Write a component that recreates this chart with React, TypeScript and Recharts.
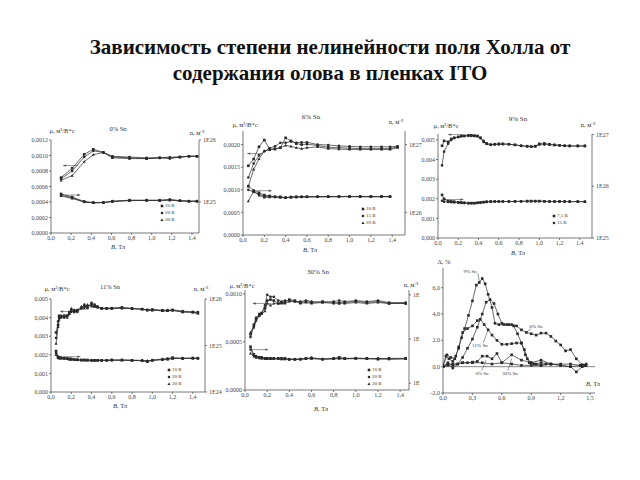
import React from 'react';
import { LineChart, Line, XAxis, YAxis, ReferenceLine } from 'recharts';

// ---- data ----
// 0% Sn
const b0 = [0.1, 0.21, 0.33, 0.42, 0.52, 0.61, 0.78, 0.95, 1.08, 1.18, 1.28, 1.37, 1.45];
const mu0_10 = [0.000715, 0.000835, 0.001015, 0.00108, 0.00104, 0.00098, 0.00097, 0.00096, 0.00097, 0.00097, 0.00098, 0.00099, 0.00099];
const mu0_20 = [0.0007, 0.0008, 0.00098, 0.00106, 0.00104, 0.00099, 0.00098, 0.00097, 0.00097, 0.00096, 0.00098, 0.00099, 0.00099];
const mu0_30 = [0.00068, 0.00074, 0.00092, 0.00101, 0.00104, 0.00097, 0.00096, 0.00096, 0.00097, 0.00098, 0.00098, 0.00099, 0.00099];
const n0_10 = [1.35e25, 1.2e25, 1.02e25, 0.98e25, 0.98e25, 1.03e25, 1.07e25, 1.07e25, 1.07e25, 1.08e25, 1.05e25, 1.03e25, 1.03e25];
const n0_20 = [1.3e25, 1.17e25, 1.0e25, 0.97e25, 0.98e25, 1.02e25, 1.06e25, 1.06e25, 1.06e25, 1.1e25, 1.05e25, 1.03e25, 1.03e25];
const n0_30 = [1.25e25, 1.14e25, 1.0e25, 0.97e25, 0.98e25, 1.02e25, 1.05e25, 1.06e25, 1.05e25, 1.07e25, 1.04e25, 1.03e25, 1.03e25];

// 6% Sn
const b6u = [0.05, 0.1, 0.15, 0.2, 0.25, 0.3, 0.35, 0.4, 0.45, 0.5, 0.55, 0.6, 0.7, 0.8, 0.9, 1.0, 1.1, 1.2, 1.3, 1.38, 1.45];
const b6n = [0.05, 0.1, 0.15, 0.2, 0.25, 0.3, 0.35, 0.4, 0.45, 0.5, 0.55, 0.6, 0.7, 0.8, 0.9, 1.0, 1.1, 1.2, 1.3, 1.38];
const mu6_10 = [0.00153, 0.00168, 0.00195, 0.0021, 0.0019, 0.0019, 0.00193, 0.00215, 0.00208, 0.00202, 0.002, 0.00201, 0.00198, 0.00194, 0.00193, 0.00192, 0.00191, 0.00191, 0.00191, 0.00191, 0.00195];
const mu6_15 = [0.00127, 0.00158, 0.00176, 0.00185, 0.00192, 0.00196, 0.00204, 0.00204, 0.00207, 0.00204, 0.00205, 0.00205, 0.002, 0.00199, 0.00197, 0.00196, 0.00195, 0.00195, 0.00195, 0.00195, 0.00196];
const mu6_20 = [0.00108, 0.00145, 0.00168, 0.00186, 0.00188, 0.00191, 0.00193, 0.00198, 0.00196, 0.00193, 0.00191, 0.00193, 0.00195, 0.00191, 0.0019, 0.00189, 0.00189, 0.00189, 0.00189, 0.00189, 0.00193];
const n6_10 = [2.44e26, 2.1e26, 1.95e26, 1.8e26, 1.75e26, 1.7e26, 1.7e26, 1.65e26, 1.68e26, 1.7e26, 1.7e26, 1.7e26, 1.71e26, 1.71e26, 1.72e26, 1.72e26, 1.72e26, 1.72e26, 1.72e26, 1.72e26];
const n6_15 = [2.15e26, 2.0e26, 1.85e26, 1.72e26, 1.72e26, 1.7e26, 1.66e26, 1.65e26, 1.68e26, 1.69e26, 1.69e26, 1.7e26, 1.7e26, 1.71e26, 1.71e26, 1.71e26, 1.71e26, 1.71e26, 1.71e26, 1.71e26];
const n6_20 = [1.47e26, 2.05e26, 1.78e26, 1.66e26, 1.68e26, 1.68e26, 1.66e26, 1.64e26, 1.67e26, 1.68e26, 1.69e26, 1.69e26, 1.7e26, 1.7e26, 1.7e26, 1.71e26, 1.7e26, 1.7e26, 1.7e26, 1.7e26];

// 9% Sn
const b9 = [0.04, 0.06, 0.1, 0.13, 0.16, 0.2, 0.23, 0.26, 0.3, 0.33, 0.36, 0.39, 0.42, 0.45, 0.48, 0.52, 0.56, 0.6, 0.64, 0.7, 0.76, 0.82, 0.88, 0.92, 0.96, 1.0, 1.05, 1.1, 1.15, 1.2, 1.25, 1.3, 1.38, 1.45];
const mu9_75 = [0.0047, 0.00495, 0.0049, 0.00505, 0.0051, 0.00515, 0.0052, 0.0052, 0.00525, 0.00525, 0.0052, 0.0052, 0.0051, 0.0049, 0.0048, 0.00475, 0.00478, 0.0048, 0.0048, 0.00478, 0.00475, 0.0047, 0.00468, 0.00466, 0.00468, 0.0048, 0.00482, 0.00478, 0.00475, 0.00472, 0.0047, 0.0047, 0.0047, 0.0047];
const mu9_15 = [0.0037, 0.0044, 0.0048, 0.005, 0.0051, 0.00515, 0.00518, 0.0052, 0.0052, 0.0052, 0.00522, 0.00518, 0.0051, 0.00495, 0.00482, 0.00476, 0.00476, 0.00477, 0.00478, 0.00478, 0.00474, 0.0047, 0.00466, 0.00465, 0.00466, 0.00476, 0.00476, 0.00475, 0.00473, 0.00472, 0.0047, 0.00468, 0.00468, 0.00468];
const n9_75 = [6.8e25, 5.7e25, 5.16e25, 5.1e25, 5.03e25, 4.89e25, 4.85e25, 4.8e25, 4.72e25, 4.72e25, 4.72e25, 4.8e25, 4.85e25, 4.94e25, 5.0e25, 5.07e25, 5.07e25, 5.07e25, 5.07e25, 5.07e25, 5.1e25, 5.1e25, 5.16e25, 5.16e25, 5.16e25, 5.16e25, 5.1e25, 5.07e25, 5.07e25, 5.07e25, 5.07e25, 5.05e25, 5.05e25, 5.03e25];
const n9_15 = [5.25e25, 5.03e25, 4.95e25, 4.9e25, 4.85e25, 4.8e25, 4.75e25, 4.72e25, 4.68e25, 4.68e25, 4.7e25, 4.75e25, 4.82e25, 4.9e25, 4.98e25, 5.03e25, 5.05e25, 5.05e25, 5.05e25, 5.07e25, 5.07e25, 5.1e25, 5.12e25, 5.14e25, 5.14e25, 5.12e25, 5.1e25, 5.07e25, 5.05e25, 5.05e25, 5.05e25, 5.03e25, 5.03e25, 5.0e25];

// 11% Sn
const b11 = [0.05, 0.07, 0.08, 0.1, 0.13, 0.16, 0.18, 0.2, 0.23, 0.26, 0.3, 0.33, 0.36, 0.4, 0.43, 0.46, 0.5, 0.55, 0.6, 0.7, 0.8, 0.9, 0.95, 1.0, 1.1, 1.15, 1.2, 1.3, 1.4, 1.45];
const mu11_10 = [0.0032, 0.0036, 0.0041, 0.00405, 0.0041, 0.0041, 0.0042, 0.0044, 0.0043, 0.0044, 0.0045, 0.0046, 0.0046, 0.0047, 0.0046, 0.00455, 0.0045, 0.0045, 0.0045, 0.00455, 0.0045, 0.00445, 0.0044, 0.0044, 0.00437, 0.00437, 0.0044, 0.0043, 0.0043, 0.00425];
const mu11_20 = [0.0029, 0.0038, 0.004, 0.0041, 0.004, 0.0041, 0.0043, 0.0043, 0.0044, 0.0043, 0.0045, 0.0047, 0.0045, 0.0048, 0.0047, 0.0046, 0.0045, 0.0045, 0.00452, 0.00452, 0.00448, 0.00446, 0.00442, 0.00445, 0.0044, 0.0044, 0.00442, 0.00435, 0.0043, 0.0043];
const mu11_30 = [0.0026, 0.0035, 0.0039, 0.004, 0.0041, 0.004, 0.0042, 0.0045, 0.0044, 0.0044, 0.0046, 0.0045, 0.0047, 0.0046, 0.0046, 0.0046, 0.00448, 0.00448, 0.00448, 0.0045, 0.00448, 0.00445, 0.0044, 0.0044, 0.00436, 0.00436, 0.00438, 0.0043, 0.00428, 0.00422];
const n11_10 = [7.6e24, 5.75e24, 5.5e24, 5.5e24, 5.35e24, 5.25e24, 5.15e24, 5.15e24, 5.0e24, 4.97e24, 4.88e24, 4.88e24, 4.88e24, 4.79e24, 4.79e24, 4.79e24, 4.79e24, 4.79e24, 4.88e24, 4.88e24, 4.79e24, 4.7e24, 4.49e24, 4.79e24, 5.0e24, 5.15e24, 5.5e24, 5.25e24, 5.4e24, 5.35e24];
const n11_20 = [6.9e24, 5.6e24, 5.4e24, 5.3e24, 5.3e24, 5.2e24, 5.1e24, 5.0e24, 4.95e24, 4.9e24, 4.85e24, 4.85e24, 4.8e24, 4.8e24, 4.8e24, 4.8e24, 4.8e24, 4.82e24, 4.85e24, 4.85e24, 4.82e24, 4.75e24, 4.6e24, 4.85e24, 5.1e24, 5.2e24, 5.3e24, 5.35e24, 5.3e24, 5.3e24];
const n11_30 = [6.3e24, 5.4e24, 5.3e24, 5.25e24, 5.2e24, 5.15e24, 5.05e24, 5.0e24, 4.9e24, 4.88e24, 4.85e24, 4.82e24, 4.8e24, 4.78e24, 4.78e24, 4.78e24, 4.8e24, 4.8e24, 4.82e24, 4.82e24, 4.8e24, 4.78e24, 4.7e24, 4.8e24, 4.95e24, 5.0e24, 5.2e24, 5.3e24, 5.25e24, 5.25e24];

// 30% Sn
const b30 = [0.05, 0.08, 0.1, 0.13, 0.15, 0.18, 0.2, 0.23, 0.26, 0.3, 0.33, 0.36, 0.4, 0.45, 0.5, 0.55, 0.6, 0.7, 0.8, 0.85, 0.9, 1.0, 1.1, 1.2, 1.3, 1.45];
const mu30_10 = [0.00058, 0.00068, 0.00075, 0.00079, 0.0008, 0.00085, 0.00093, 0.00094, 0.00093, 0.0009, 0.00091, 0.00091, 0.00094, 0.00093, 0.00091, 0.00092, 0.00091, 0.00092, 0.00091, 0.0009, 0.00091, 0.00092, 0.00091, 0.00092, 0.0009, 0.0009];
const mu30_20 = [0.00055, 0.00066, 0.00073, 0.00078, 0.0008, 0.00088, 0.00099, 0.00097, 0.00097, 0.00093, 0.00092, 0.00093, 0.00093, 0.00092, 0.00092, 0.00093, 0.00092, 0.00091, 0.00092, 0.00093, 0.00092, 0.00093, 0.00092, 0.00093, 0.00091, 0.00091];
const mu30_30 = [0.0006, 0.00065, 0.00072, 0.00077, 0.00079, 0.00082, 0.0009, 0.00088, 0.0009, 0.0009, 0.0009, 0.0009, 0.00092, 0.00092, 0.0009, 0.00091, 0.0009, 0.00091, 0.0009, 0.00091, 0.0009, 0.00091, 0.0009, 0.00091, 0.0009, 0.0009];
const n30_10 = [6.7e25, 4.49e25, 4.06e25, 3.86e25, 3.86e25, 3.67e25, 3.67e25, 3.67e25, 3.67e25, 3.67e25, 3.67e25, 3.67e25, 3.49e25, 3.49e25, 3.49e25, 3.67e25, 3.67e25, 3.49e25, 3.67e25, 3.86e25, 3.67e25, 3.67e25, 3.67e25, 3.49e25, 3.67e25, 3.67e25];
const n30_20 = [5.77e25, 4.3e25, 3.95e25, 3.8e25, 3.7e25, 3.6e25, 3.6e25, 3.6e25, 3.6e25, 3.6e25, 3.55e25, 3.55e25, 3.5e25, 3.5e25, 3.55e25, 3.6e25, 3.8e25, 3.55e25, 3.6e25, 3.7e25, 3.6e25, 3.7e25, 3.6e25, 3.65e25, 3.55e25, 3.6e25];
const n30_30 = [4.72e25, 4.06e25, 3.8e25, 3.7e25, 3.65e25, 3.6e25, 3.55e25, 3.55e25, 3.55e25, 3.55e25, 3.5e25, 3.5e25, 3.45e25, 3.45e25, 3.5e25, 3.55e25, 3.6e25, 3.5e25, 3.55e25, 3.6e25, 3.55e25, 3.6e25, 3.55e25, 3.6e25, 3.5e25, 3.55e25];

// nonlinearity, %
const d9x = [0, 0.03, 0.06, 0.1, 0.13, 0.16, 0.19, 0.22, 0.26, 0.3, 0.34, 0.37, 0.4, 0.43, 0.46, 0.5, 0.53, 0.57, 0.62, 0.67, 0.72, 0.76, 0.8, 0.84, 0.88, 0.93, 1.0, 1.1, 1.2, 1.3, 1.36, 1.42, 1.46];
const d9y = [0.1, 0.8, 0.6, 0.4, 0.8, 1.4, 2.2, 2.9, 3.9, 5.0, 6.2, 6.4, 6.7, 6.3, 5.5, 4.5, 3.3, 3.2, 3.2, 3.2, 3.1, 2.5, 1.8, 0.9, 0.3, 0.2, 0.3, 0.2, 0.1, 0.0, -0.4, 0.0, 0.1];
const d6x = [0, 0.05, 0.1, 0.15, 0.2, 0.25, 0.3, 0.35, 0.4, 0.44, 0.48, 0.52, 0.56, 0.6, 0.65, 0.7, 0.75, 0.8, 0.85, 0.9, 0.95, 1.0, 1.05, 1.1, 1.15, 1.2, 1.25, 1.3, 1.36, 1.42, 1.46];
const d6y = [0.0, 0.2, -0.1, 0.2, 0.7, 1.4, 2.1, 3.0, 4.0, 4.9, 5.1, 4.8, 4.0, 3.3, 3.2, 3.2, 3.1, 2.8, 2.6, 2.5, 2.4, 2.55, 2.55, 2.3, 1.95, 1.65, 1.2, 1.3, 0.6, 0.15, 0.2];
const d11x = [0, 0.04, 0.08, 0.12, 0.16, 0.2, 0.25, 0.3, 0.35, 0.38, 0.42, 0.46, 0.5, 0.55, 0.6, 0.65, 0.7, 0.75, 0.8, 0.83, 0.86, 0.9, 0.95, 1.0, 1.05];
const d11y = [0.0, 0.9, 0.7, 0.6, 1.5, 2.6, 2.9, 3.1, 3.5, 3.6, 3.2, 2.8, 2.4, 2.0, 1.7, 1.7, 1.75, 1.8, 1.8, 1.3, 0.6, 0.3, 0.2, 0.1, 0.2];
const d0x = [0, 0.05, 0.1, 0.15, 0.2, 0.25, 0.3, 0.35, 0.4, 0.45, 0.5, 0.55, 0.6, 0.7, 0.8, 0.9, 1.0, 1.1, 1.2, 1.3, 1.4, 1.45];
const d0y = [0, 0.3, 0.1, 0.2, 0.3, 0.3, 0.35, 0.4, 0.8, 0.8, 0.6, 1.0, 0.3, 0.2, 0.1, 0.1, 0.1, 0.2, 0.2, 0.2, 0.1, 0.1];
const d30x = [0, 0.05, 0.1, 0.2, 0.3, 0.4, 0.5, 0.6, 0.7, 0.8, 0.9, 1.0, 1.1, 1.2, 1.3, 1.4, 1.45];
const d30y = [0, 0.1, 0.2, 0.3, 0.3, 0.3, 0.2, 0.3, 0.9, 0.5, 0.3, 0.5, 0.2, 0.1, 0.0, 0.1, 0.1];

const legend3 = ['10 В', '20 В', '30 В'];
const legend6 = ['10 В', '15 В', '20 В'];
const legend9 = ['7,5 В', '15 В'];

const FONT = '"Liberation Serif", "Times New Roman", serif';
const INK = '#2a2a2a';

type Shape = 'square' | 'circle' | 'triangle';
// annotation segment in data units: [x1, y1, x2, y2]; arrow head drawn at (x2, y2) if head
type Seg = { p: [number, number, number, number]; head?: boolean };

const zip = (xs: number[], ys: number[]) => xs.map((x, i) => ({ x, y: ys[i] }));
const comma = (d: number) => (v: number) => v.toFixed(d).replace('.', ',');
const expLabel = (v: number) => `1E${Math.round(Math.log10(v))}`;

function Marker({ cx, cy, shape, s = 2.6 }: { cx?: number; cy?: number; shape: Shape; s?: number }) {
  if (cx == null || cy == null) return null;
  if (shape === 'circle') return <circle cx={cx} cy={cy} r={s / 2} fill={INK} />;
  if (shape === 'triangle')
    return <polygon points={`${cx},${cy - s / 1.6} ${cx - s / 1.7},${cy + s / 2.4} ${cx + s / 1.7},${cy + s / 2.4}`} fill={INK} />;
  return <rect x={cx - s / 2} y={cy - s / 2} width={s} height={s} fill={INK} />;
}

const arrowShape = (head: boolean) => (props: any) => {
  const { x1, y1, x2, y2 } = props;
  if ([x1, y1, x2, y2].some((v) => v == null || isNaN(v))) return <g />;
  const a = Math.atan2(y2 - y1, x2 - x1);
  const L = 3;
  const W = 1.2;
  const hx = x2 - L * Math.cos(a);
  const hy = y2 - L * Math.sin(a);
  return (
    <g>
      <line x1={x1} y1={y1} x2={x2} y2={y2} stroke="#555" strokeWidth={0.6} />
      {head && (
        <polygon
          points={`${x2},${y2} ${hx - W * Math.sin(a)},${hy + W * Math.cos(a)} ${hx + W * Math.sin(a)},${hy - W * Math.cos(a)}`}
          fill="#555"
        />
      )}
    </g>
  );
};

interface Series {
  data: { x: number; y: number }[];
  axis: 'mu' | 'n';
  shape: Shape;
}

interface PanelProps {
  rect: [number, number, number, number]; // plot area x0,y0,x1,y1 on the page
  xMax: number;
  xTicks: number[];
  xDigits: number;
  muDomain: [number, number];
  muTicks: number[];
  muDigits: number;
  nDomain?: [number, number];
  nTicks?: number[];
  nFormat?: (v: number) => string;
  series: Series[];
  zeroLine?: boolean;
  segs?: Seg[];
}

const WL = 26;
const WR = 20;
const TOP = 4;
const HX = 12;

const tickStyle = { fontSize: 6, fill: '#444', fontFamily: FONT };
const axisLine = { stroke: '#555', strokeWidth: 0.8 };

function Panel(p: PanelProps) {
  const [x0, y0, x1, y1] = p.rect;
  const wr = p.nDomain ? WR : 4;
  const width = x1 - x0 + WL + wr;
  const height = y1 - y0 + TOP + HX;
  return (
    <div style={{ position: 'absolute', left: x0 - WL, top: y0 - TOP }}>
      <LineChart width={width} height={height} margin={{ top: TOP, right: p.nDomain ? 0 : wr, bottom: 0, left: 0 }}>
        <XAxis
          dataKey="x"
          type="number"
          domain={[0, p.xMax]}
          ticks={p.xTicks}
          interval={0}
          allowDataOverflow
          height={HX}
          tickSize={2}
          tickMargin={1}
          tick={tickStyle}
          axisLine={axisLine}
          tickLine={axisLine}
          tickFormatter={comma(p.xDigits)}
        />
        <YAxis
          yAxisId="mu"
          type="number"
          domain={p.muDomain}
          ticks={p.muTicks}
          interval={0}
          allowDataOverflow
          width={WL}
          tickSize={2}
          tickMargin={1}
          tick={tickStyle}
          axisLine={axisLine}
          tickLine={axisLine}
          tickFormatter={comma(p.muDigits)}
        />
        {p.nDomain && (
          <YAxis
            yAxisId="n"
            orientation="right"
            scale="log"
            type="number"
            domain={p.nDomain}
            ticks={p.nTicks}
            interval={0}
            allowDataOverflow
            width={WR}
            tickSize={2}
            tickMargin={2}
            tick={tickStyle}
            axisLine={axisLine}
            tickLine={axisLine}
            tickFormatter={p.nFormat ?? expLabel}
          />
        )}
        {p.zeroLine && <ReferenceLine yAxisId="mu" y={0} stroke="#555" strokeWidth={0.7} />}
        {(p.segs ?? []).map((s, i) => (
          <ReferenceLine
            key={`seg-${i}`}
            yAxisId="mu"
            segment={[
              { x: s.p[0], y: s.p[1] },
              { x: s.p[2], y: s.p[3] },
            ]}
            ifOverflow="visible"
            shape={arrowShape(!!s.head)}
          />
        ))}
        {p.series.map((s, i) => (
          <Line
            key={i}
            yAxisId={s.axis}
            data={s.data}
            dataKey="y"
            type="linear"
            stroke={INK}
            strokeWidth={0.7}
            isAnimationActive={false}
            dot={(d: any) => <Marker key={`m-${i}-${d.index}`} cx={d.cx} cy={d.cy} shape={s.shape} />}
            activeDot={false}
          />
        ))}
      </LineChart>
    </div>
  );
}

function Txt({ x, y, size = 6.5, children }: { x: number; y: number; size?: number; children: React.ReactNode }) {
  return (
    <div
      style={{
        position: 'absolute',
        left: x,
        top: y,
        transform: 'translate(-50%, -50%)',
        whiteSpace: 'nowrap',
        fontFamily: FONT,
        fontSize: size,
        color: '#333',
        lineHeight: 1,
      }}
    >
      {children}
    </div>
  );
}

function LegendBox({ x, y, names, shapes }: { x: number; y: number; names: string[]; shapes: Shape[] }) {
  return (
    <div style={{ position: 'absolute', left: x, top: y, fontFamily: FONT, fontSize: 5, color: '#333', lineHeight: '7px' }}>
      {names.map((n, i) => (
        <div key={n} style={{ display: 'flex', alignItems: 'center', gap: 1 }}>
          <svg width={4} height={4}>
            <Marker cx={2} cy={2} shape={shapes[i]} s={2.6} />
          </svg>
          <span>{n}</span>
        </div>
      ))}
    </div>
  );
}

const B = () => (
  <>
    <i>B</i>, Тл
  </>
);
const MU = 'μ, м²/В*с';
const N = 'n, м⁻³';

const xT = [0, 0.2, 0.4, 0.6, 0.8, 1.0, 1.2, 1.4];
const sh3: Shape[] = ['square', 'circle', 'triangle'];

export default function App() {
  return (
    <div style={{ position: 'absolute', left: 0, top: 0, width: 640, height: 480, background: '#fff', overflow: 'hidden' }}>
      <div
        style={{
          position: 'absolute',
          left: 20,
          top: 34,
          width: 620,
          textAlign: 'center',
          fontFamily: FONT,
          fontWeight: 'bold',
          fontSize: 21,
          lineHeight: '26px',
          color: '#111',
        }}
      >
        Зависимость степени нелинейности поля Холла от
        <br />
        содержания олова в пленках ITO
      </div>

      {/* 0% Sn */}
      <Panel
        rect={[51, 140, 199, 233]}
        xMax={1.47}
        xTicks={xT}
        xDigits={1}
        muDomain={[0, 0.0012]}
        muTicks={[0, 0.0002, 0.0004, 0.0006, 0.0008, 0.001, 0.0012]}
        muDigits={4}
        nDomain={[Math.pow(10, 24.5), 1e26]}
        nTicks={[1e25, 1e26]}
        segs={[
          { p: [0.27, 0.00087, 0.12, 0.00087], head: true },
          { p: [0.14, 0.00049, 0.29, 0.00049], head: true },
        ]}
        series={[
          { data: zip(b0, mu0_10), axis: 'mu', shape: 'square' },
          { data: zip(b0, mu0_20), axis: 'mu', shape: 'circle' },
          { data: zip(b0, mu0_30), axis: 'mu', shape: 'triangle' },
          { data: zip(b0, n0_10), axis: 'n', shape: 'square' },
          { data: zip(b0, n0_20), axis: 'n', shape: 'circle' },
          { data: zip(b0, n0_30), axis: 'n', shape: 'triangle' },
        ]}
      />
      <Txt x={118} y={129} size={6.5}>0% Sn</Txt>
      <Txt x={62} y={131}>{MU}</Txt>
      <Txt x={197} y={133}>{N}</Txt>
      <Txt x={118} y={247}><B /></Txt>
      <LegendBox x={160} y={202} names={legend3} shapes={sh3} />

      {/* 6% Sn */}
      <Panel
        rect={[243, 131, 405, 235]}
        xMax={1.52}
        xTicks={xT}
        xDigits={1}
        muDomain={[0, 0.0023]}
        muTicks={[0, 0.0005, 0.001, 0.0015, 0.002]}
        muDigits={4}
        nDomain={[Math.pow(10, 25.667), Math.pow(10, 27.2)]}
        nTicks={[1e26, 1e27]}
        segs={[
          { p: [0.18, 0.0018, 0.04, 0.0018], head: true },
          { p: [0.08, 0.00098, 0.27, 0.00098], head: true },
        ]}
        series={[
          { data: zip(b6u, mu6_10), axis: 'mu', shape: 'square' },
          { data: zip(b6u, mu6_15), axis: 'mu', shape: 'circle' },
          { data: zip(b6u, mu6_20), axis: 'mu', shape: 'triangle' },
          { data: zip(b6n, n6_10), axis: 'n', shape: 'square' },
          { data: zip(b6n, n6_15), axis: 'n', shape: 'circle' },
          { data: zip(b6n, n6_20), axis: 'n', shape: 'triangle' },
        ]}
      />
      <Txt x={311} y={117} size={7}>6% Sn</Txt>
      <Txt x={245} y={125}>{MU}</Txt>
      <Txt x={396} y={122}>{N}</Txt>
      <Txt x={310} y={250}><B /></Txt>
      <LegendBox x={361} y={205} names={legend6} shapes={sh3} />

      {/* 9% Sn */}
      <Panel
        rect={[438, 134, 592, 238]}
        xMax={1.52}
        xTicks={xT}
        xDigits={1}
        muDomain={[0, 0.0053]}
        muTicks={[0, 0.001, 0.002, 0.003, 0.004, 0.005]}
        muDigits={3}
        nDomain={[1e25, Math.pow(10, 27.008)]}
        nTicks={[1e25, 1e26, 1e27]}
        segs={[
          { p: [0.25, 0.00527, 0.1, 0.00527], head: true },
          { p: [0.07, 0.00196, 0.25, 0.00196], head: true },
        ]}
        series={[
          { data: zip(b9, mu9_75), axis: 'mu', shape: 'square' },
          { data: zip(b9, mu9_15), axis: 'mu', shape: 'circle' },
          { data: zip(b9, n9_75), axis: 'n', shape: 'square' },
          { data: zip(b9, n9_15), axis: 'n', shape: 'circle' },
        ]}
      />
      <Txt x={518} y={119} size={7}>9% Sn</Txt>
      <Txt x={446} y={126}>{MU}</Txt>
      <Txt x={588} y={125}>{N}</Txt>
      <Txt x={518} y={253}><B /></Txt>
      <LegendBox x={552} y={212} names={legend9} shapes={['square', 'circle']} />

      {/* 11% Sn */}
      <Panel
        rect={[51, 299, 205, 392]}
        xMax={1.52}
        xTicks={xT}
        xDigits={1}
        muDomain={[0, 0.005]}
        muTicks={[0, 0.001, 0.002, 0.003, 0.004, 0.005]}
        muDigits={3}
        nDomain={[1e24, 1e26]}
        nTicks={[1e24, 1e25, 1e26]}
        segs={[
          { p: [0.26, 0.00433, 0.09, 0.00433], head: true },
          { p: [0.12, 0.0019, 0.29, 0.0019], head: true },
        ]}
        series={[
          { data: zip(b11, mu11_10), axis: 'mu', shape: 'square' },
          { data: zip(b11, mu11_20), axis: 'mu', shape: 'circle' },
          { data: zip(b11, mu11_30), axis: 'mu', shape: 'triangle' },
          { data: zip(b11, n11_10), axis: 'n', shape: 'square' },
          { data: zip(b11, n11_20), axis: 'n', shape: 'circle' },
          { data: zip(b11, n11_30), axis: 'n', shape: 'triangle' },
        ]}
      />
      <Txt x={110} y={287} size={6.5}>11% Sn</Txt>
      <Txt x={57} y={289}>{MU}</Txt>
      <Txt x={201} y={289}>{N}</Txt>
      <Txt x={120} y={406}><B /></Txt>
      <LegendBox x={167} y={366} names={legend3} shapes={sh3} />

      {/* 30% Sn */}
      <Panel
        rect={[245, 290, 409, 390]}
        xMax={1.48}
        xTicks={xT}
        xDigits={1}
        muDomain={[0, 0.00104]}
        muTicks={[0, 0.0005, 0.001]}
        muDigits={4}
        nDomain={[Math.pow(10, 24.848), Math.pow(10, 27.109)]}
        nTicks={[1e25, 1e26, 1e27]}
        nFormat={() => '1E'}
        segs={[
          { p: [0.24, 0.0009, 0.07, 0.0009], head: true },
          { p: [0.05, 0.00042, 0.21, 0.00042], head: true },
        ]}
        series={[
          { data: zip(b30, mu30_10), axis: 'mu', shape: 'square' },
          { data: zip(b30, mu30_20), axis: 'mu', shape: 'circle' },
          { data: zip(b30, mu30_30), axis: 'mu', shape: 'triangle' },
          { data: zip(b30, n30_10), axis: 'n', shape: 'square' },
          { data: zip(b30, n30_20), axis: 'n', shape: 'circle' },
          { data: zip(b30, n30_30), axis: 'n', shape: 'triangle' },
        ]}
      />
      <Txt x={318} y={272} size={7}>30% Sn</Txt>
      <Txt x={242} y={286}>{MU}</Txt>
      <Txt x={411} y={285}>{N}</Txt>
      <Txt x={321} y={409}><B /></Txt>
      <LegendBox x={367} y={366} names={legend3} shapes={sh3} />

      {/* Δ, % */}
      <Panel
        rect={[443, 268, 595, 393]}
        xMax={1.55}
        xTicks={[0, 0.3, 0.6, 0.9, 1.2, 1.5]}
        xDigits={1}
        muDomain={[-2, 7.5]}
        muTicks={[-2, 0, 2, 4, 6]}
        muDigits={1}
        zeroLine
        segs={[
          { p: [0.355, 7.1, 0.375, 6.3] },
          { p: [0.41, 1.8, 0.46, 2.8] },
          { p: [0.395, -0.3, 0.44, 0.5] },
          { p: [0.66, -0.3, 0.7, 0.6] },
          { p: [0.9, 2.9, 0.85, 2.6] },
        ]}
        series={[
          { data: zip(d9x, d9y), axis: 'mu', shape: 'square' },
          { data: zip(d6x, d6y), axis: 'mu', shape: 'square' },
          { data: zip(d11x, d11y), axis: 'mu', shape: 'square' },
          { data: zip(d0x, d0y), axis: 'mu', shape: 'square' },
          { data: zip(d30x, d30y), axis: 'mu', shape: 'square' },
        ]}
      />
      <Txt x={444} y={262}>Δ, %</Txt>
      <Txt x={593} y={384}><B /></Txt>
      <Txt x={470} y={271} size={5}>9% Sn</Txt>
      <Txt x={536} y={326} size={5}>6% Sn</Txt>
      <Txt x={480} y={345} size={5}>11% Sn</Txt>
      <Txt x={482} y={373} size={5}>0% Sn</Txt>
      <Txt x={510} y={373} size={5}>30% Sn</Txt>
    </div>
  );
}
